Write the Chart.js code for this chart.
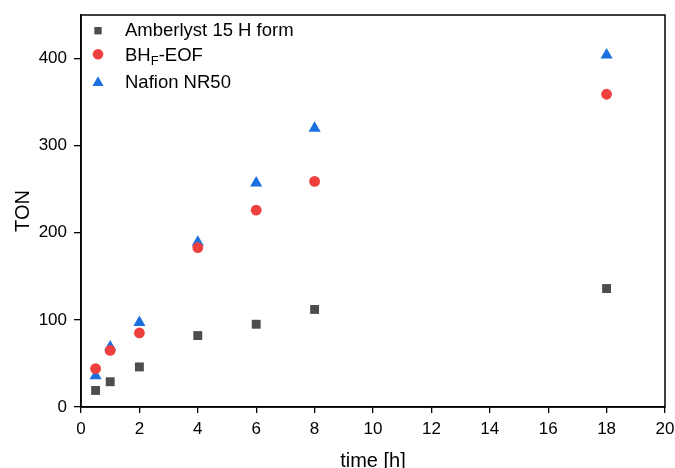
<!DOCTYPE html>
<html>
<head>
<meta charset="utf-8">
<script src="https://cdn.jsdelivr.net/npm/chart.js@4.4.1/dist/chart.umd.min.js"></script>
<style>
    html, body { margin: 0; padding: 0; background: #fff; }
    #wrap { width: 675px; height: 468px; position: relative; }
</style>
</head>
<body>
<div id="wrap"><canvas id="tonChart"></canvas></div>
<script>
// data
const times = [0.5, 1, 2, 4, 6, 8, 18];
const amberlyst = [19, 29, 46, 82, 95, 112, 136];
const bhfEof = [44, 65, 85, 183, 226, 259, 359];
const nafion = [36, 69, 97, 189, 257, 320, 404];
const xTicks = [0, 2, 4, 6, 8, 10, 12, 14, 16, 18, 20];
const yTicks = [0, 100, 200, 300, 400];

const FONT = "'Liberation Sans', Arial, sans-serif";

function toPoints(ys) {
    return times.map(function(t, i) { return { x: t, y: ys[i] }; });
}

// box around the plot area
const frame = {
    id: 'frame',
    afterDraw: function(chart) {
        const a = chart.chartArea, ctx = chart.ctx;
        ctx.save();
        ctx.strokeStyle = '#000';
        ctx.lineWidth = 1.5;
        ctx.strokeRect(a.left, a.top, a.right - a.left, a.bottom - a.top);
        ctx.restore();
    }
};

// legend drawn inside the plot, top left
const insideLegend = {
    id: 'insideLegend',
    afterDraw: function(chart) {
        const ctx = chart.ctx;
        const markerY = [30.7, 54.3, 82.7];
        const baseY = [35.7, 61, 87.6];
        ctx.save();
        chart.data.datasets.forEach(function(ds, i) {
            const r = ds.pointStyle === 'triangle' ? 6.4 : (ds.pointStyle === 'circle' ? 5.3 : 5.2);
            ctx.fillStyle = ds.backgroundColor;
            ctx.strokeStyle = ds.backgroundColor;
            Chart.helpers.drawPoint(ctx, { pointStyle: ds.pointStyle, radius: r, rotation: 0, borderWidth: 0 }, 98, markerY[i]);
            ctx.fillStyle = '#000';
            ctx.textBaseline = 'alphabetic';
            ctx.textAlign = 'left';
            ctx.font = '18.5px ' + FONT;
            let x = 125;
            ds.legendParts.forEach(function(p) {
                if (p.sub) {
                    ctx.font = '13px ' + FONT;
                    ctx.fillText(p.text, x, baseY[i] + 4);
                    x += ctx.measureText(p.text).width;
                    ctx.font = '18.5px ' + FONT;
                } else {
                    ctx.fillText(p.text, x, baseY[i]);
                    x += ctx.measureText(p.text).width;
                }
            });
        });
        ctx.restore();
    }
};

const ctx = document.getElementById('tonChart').getContext('2d');
const chart = new Chart(ctx, {
    type: 'scatter',
    data: {
        datasets: [{
            label: 'Amberlyst 15 H form',
            legendParts: [{ text: 'Amberlyst 15 H form' }],
            data: toPoints(amberlyst),
            pointStyle: 'rect',
            pointRadius: 6.3,
            backgroundColor: '#4d4d4d',
            borderColor: '#4d4d4d',
            borderWidth: 0
        }, {
            label: 'BHF-EOF',
            legendParts: [{ text: 'BH' }, { text: 'F', sub: true }, { text: '-EOF' }],
            data: toPoints(bhfEof),
            pointStyle: 'circle',
            pointRadius: 5.4,
            backgroundColor: '#ef4040',
            borderColor: '#ef4040',
            borderWidth: 0
        }, {
            label: 'Nafion NR50',
            legendParts: [{ text: 'Nafion NR50' }],
            data: toPoints(nafion),
            pointStyle: 'triangle',
            pointRadius: 7,
            backgroundColor: '#1c6fde',
            borderColor: '#1c6fde',
            borderWidth: 0
        }]
    },
    options: {
        responsive: true,
        maintainAspectRatio: false,
        animation: false,
        layout: { padding: { top: 15, right: 10, bottom: 0, left: 0 } },
        plugins: {
            legend: { display: false },
            tooltip: { enabled: false }
        },
        scales: {
            x: {
                type: 'linear',
                min: 0,
                max: 20,
                afterFit: function(scale) {
                    scale.height = 61;
                    scale.paddingLeft = 0;
                    scale.paddingRight = 0;
                },
                afterBuildTicks: function(scale) {
                    scale.ticks = xTicks.map(function(v) { return { value: v }; });
                },
                grid: { drawOnChartArea: false, drawTicks: true, tickLength: 6, color: '#000', lineWidth: 1.3 },
                border: { display: true, color: '#000', width: 1.5 },
                ticks: { color: '#000', padding: 6, maxRotation: 0, font: { size: 17, family: FONT } },
                title: {
                    display: true,
                    text: 'time [h]',
                    color: '#000',
                    padding: { top: 0, bottom: 0 },
                    font: { size: 20, family: FONT, lineHeight: 0.7 }
                }
            },
            y: {
                type: 'linear',
                min: 0,
                max: 450,
                afterFit: function(scale) {
                    scale.width = 81;
                    scale.paddingTop = 0;
                    scale.paddingBottom = 0;
                },
                afterBuildTicks: function(scale) {
                    scale.ticks = yTicks.map(function(v) { return { value: v }; });
                },
                grid: { drawOnChartArea: false, drawTicks: true, tickLength: 7, color: '#000', lineWidth: 1.3 },
                border: { display: true, color: '#000', width: 1.5 },
                ticks: { color: '#000', padding: 7, font: { size: 17, family: FONT } },
                title: {
                    display: true,
                    text: 'TON',
                    color: '#000',
                    padding: { top: 11, bottom: 0 },
                    font: { size: 20, family: FONT, lineHeight: 1.2 }
                }
            }
        }
    },
    plugins: [frame, insideLegend]
});
</script>
</body>
</html>
